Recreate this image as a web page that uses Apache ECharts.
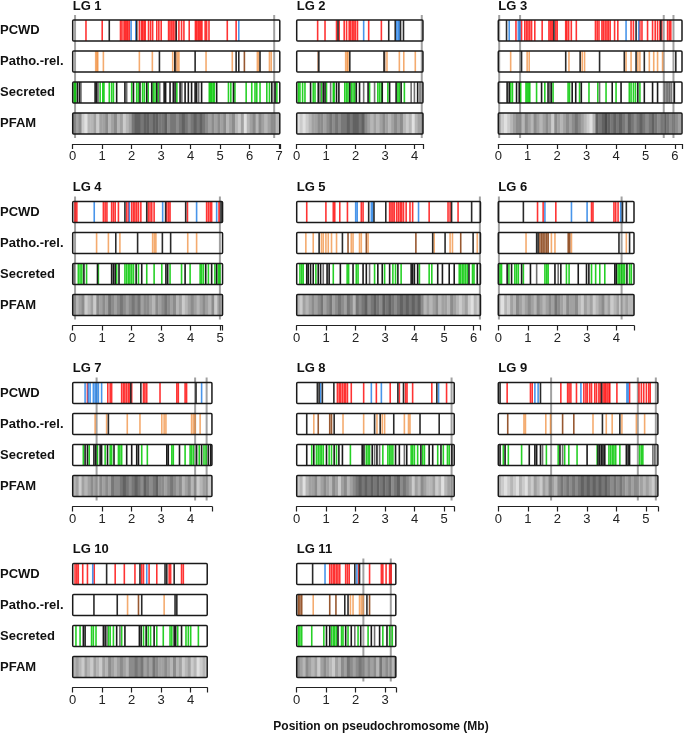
<!DOCTYPE html>
<html>
<head>
<meta charset="utf-8">
<script src="https://cdn.jsdelivr.net/npm/echarts@6/dist/echarts.min.js"></script>
<style>
  html, body {margin: 0; padding: 0; background: #fff;}
  #main {width: 685px; height: 735px;}
</style>
</head>
<body>
<div id="main"></div>
<script>
// ---- data (positions in Mb, one inner list per linkage group) ----
var lgNames = ['LG 1', 'LG 2', 'LG 3', 'LG 4', 'LG 5', 'LG 6', 'LG 7', 'LG 8', 'LG 9', 'LG 10', 'LG 11'];
var lgLength = [7.02, 4.28, 6.24, 5.08, 6.23, 4.6, 4.72, 5.34, 5.41, 4.56, 3.36];
var trackNames = ['PCWD', 'Patho.-rel.', 'Secreted', 'PFAM'];
var cenLines = [[0.08, 6.83], [4.24], [0.03, 0.74, 5.62, 5.95], [0.08, 4.99], [6.21], [0.02, 4.18],
  [0.81, 4.15, 4.54], [5.25], [1.79, 4.73, 5.34], [], [2.26, 3.19]];

var pcwdRed = [
  [0.45,1.0,1.62,1.67,1.74,1.78,1.83,1.87,1.92,2.26,2.33,2.37,2.42,2.46,2.57,2.64,2.71,2.85,2.92,3.0,3.25,3.30,3.36,3.41,3.47,3.6,3.69,3.77,3.95,4.16,4.2,4.25,4.29,4.34,4.38,4.49,4.54,4.62,5.24,5.54],
  [0.71,0.96,1.35,1.44,1.61,1.69,1.78,1.83,1.89,1.94,1.99,2.06,2.44,2.87],
  [0.6,0.79,0.9,0.96,1.01,1.07,1.13,1.24,1.49,1.72,1.77,1.82,1.86,1.95,2.0,2.29,2.33,2.39,2.48,2.65,3.3,3.36,3.42,3.52,3.57,3.63,3.69,3.74,3.8,3.95,4.06,4.51,4.59,4.81,4.88,5.07,5.24,5.33,5.41,5.49,5.55,5.75,5.81,5.86],
  [0.08,0.14,1.04,1.1,1.16,1.32,1.38,1.44,1.55,1.83,1.89,2.0,2.06,2.11,2.17,2.23,2.31,2.56,2.62,2.68,2.76,3.19,3.25,3.3,3.89,4.54,4.6,4.66,4.71,4.96],
  [0.34,0.99,1.24,1.29,1.46,1.72,2.19,2.25,3.15,3.2,3.26,3.31,3.39,3.45,3.51,3.56,3.62,3.71,3.84,3.93,4.49,5.13,5.2,5.47],
  [1.33,1.52,1.95,3.16,3.21,3.92,3.98,4.06],
  [0.5,1.19,1.27,1.32,1.66,1.72,1.77,1.83,1.89,1.94,2.0,2.4,2.45,2.51,2.96,3.53,3.58,3.81,3.86],
  [1.38,1.44,1.49,1.55,1.61,1.66,1.72,1.85,2.27,2.7,3.17,3.48,3.69,3.74,3.93,4.58,5.08],
  [0.3,1.09,1.15,2.12,2.35,2.4,2.46,2.65,2.9,2.97,3.02,3.1,3.16,3.27,3.33,3.41,3.46,3.55,3.6,3.64,3.69,3.75,3.78,4.02,4.45,4.77,4.85,4.93,5.02,5.1,5.15],
  [0.08,0.14,0.19,0.34,0.5,0.73,1.44,1.75,2.11,2.34,2.4,2.59,2.85,3.27,3.32,3.69,3.75],
  [1.12,1.18,1.24,1.29,1.35,1.4,1.46,1.66,1.72,1.78,2.1,2.47,2.87,2.92,3.03,3.15,3.2]
];
var pcwdBlue = [
  [1.98,2.14,5.63], [2.27,3.39,3.44,3.48], [0.37,0.68,0.73,4.34,4.77], [0.73,1.92,3.05,4.2,4.88],
  [2.0,2.05,2.53,2.58,4.13], [1.58,2.48,3.01,4.15], [0.42,0.53,0.59,0.7,0.76,0.81,0.87,0.98,4.37],
  [0.81,2.53,2.87,4.81], [1.24,1.35,2.8,4.36,4.4], [0.68,2.51], [0.96,2.04]
];
var pcwdBlack = [
  [1.24,2.17,3.51], [1.40,3.12,3.34,3.52,3.62], [0.28,1.89,4.68,5.52], [1.77,2.51,3.15,3.83,5.03],
  [2.44,2.62,3.02,5.25,5.93], [0.85,4.21,4.34], [1.97,2.31,4.18], [0.7,0.76,0.87,1.26,3.43,3.62,4.75],
  [0.06,1.43,3.5], [1.15,2.28,3.13,3.19,3.44], [0.54,1.97,2.13]
];
var pathoOrange = [
  [0.78,0.82,0.85,1.04,2.26,2.70,3.39,3.55,3.6,4.52,5.41,6.26,6.31,6.67,6.73],
  [1.66,1.71,1.74,3.06,3.48,3.63,4.02],
  [0.42,0.98,1.05,2.4,2.85,2.93,4.34,4.51,4.74,4.81,5.13,5.28,5.41,5.58],
  [0.81,1.21,1.6,2.71,2.77,2.82,3.9,4.2],
  [0.31,0.56,0.84,0.9,0.99,1.07,1.18,1.35,1.85,1.91,2.13,2.19,2.42,4.66,5.2,5.28,6.12],
  [0.94,1.8,1.92,2.48,4.34],
  [0.76,1.15,1.85,2.28,3.02,3.1,3.16,4.03,4.09,4.15,4.32],
  [0.58,1.57,2.27,2.72,2.9,2.98,3.65,3.79,3.84],
  [0.87,0.92,1.61,1.77,3.21,3.66,3.86,4.19,4.68,4.96],
  [1.86,3.1],
  [0.56,1.82,1.91,2.13,2.19,2.25]
];
var pathoBrown = [
  [3.49,5.82], [0.73,2.98], [], [], [1.74,2.36,4.04,5.56], [1.41,1.47,1.52,1.58,1.64,1.69,2.37,2.42],
  [], [0.73,1.12,1.18], [0.32,2.18,2.56], [2.23], [0.06,0.11,0.17,1.12,1.33,2.47]
];
var pathoBlack = [
  [2.94,3.46,4.15,5.54,5.63,6.35], [0.75,1.80,2.96], [0.79,2.29,2.78,3.44,4.28,4.68,4.96,6.03],
  [1.46,2.2,3.04,3.32], [0.76,1.55,4.61,5.03,5.98], [1.3,1.35,4.09,4.45], [1.21],
  [0.34,1.27,2.64,2.83,3.29,4.18,4.83], [3.53,4.12], [0.72,1.51,2.34,3.47,3.53], [1.63,1.74,2.38]
];
var secGreen = [
  [0.05,0.1,0.93,1.02,1.06,1.24,1.32,1.38,2.0,2.17,2.23,2.37,2.43,2.56,2.73,2.79,2.9,3.53,4.63,4.67,4.71,4.76,4.8,5.28,5.36,5.5,5.88,6.07,6.18,6.24,6.35,6.58,6.67,6.92],
  [0.06,0.11,0.2,0.28,0.56,0.62,0.84,1.01,1.24,1.27,1.63,1.69,1.74,1.85,1.91,1.97,2.47,2.75,2.81,2.87,3.09,3.43,3.48,3.65],
  [0.42,0.48,0.76,0.94,0.98,1.03,1.07,1.3,1.58,1.86,2.37,2.42,2.76,3.08,3.38,3.66,4.0,4.45,4.51,4.59,4.66,4.81],
  [0.19,0.25,0.31,0.47,0.87,1.49,1.77,1.83,1.89,1.94,2.0,2.06,2.23,2.51,2.76,3.02,3.3,3.69,3.98,4.32,4.37,4.43,4.6,4.82,4.94,4.99],
  [0.11,0.17,0.22,0.65,1.24,1.71,1.76,2.02,2.08,2.64,2.98,3.26,3.35,3.54,4.16,4.49,4.58,5.51,5.56,5.62,5.67,5.73,5.79,5.96,6.01],
  [0.06,0.11,0.36,0.56,0.62,0.68,0.85,1.58,1.64,1.69,2.31,2.4,3.16,3.3,3.44,3.61,4.06,4.11,4.17,4.23,4.28,4.45,4.51],
  [0.36,0.56,0.84,1.1,1.27,1.32,1.55,1.6,1.66,2.34,2.53,3.36,3.41,3.81,3.98,4.03,4.09,4.29,4.45,4.52],
  [0.51,0.67,0.73,0.79,0.84,0.9,1.1,1.18,1.35,1.82,2.36,2.42,2.47,2.92,3.09,3.15,3.2,3.26,3.88,3.93,3.99,4.1,4.27,4.33,4.78,4.97,5.11,5.17],
  [0.17,0.34,0.79,1.63,2.03,2.25,2.39,2.67,3.35,3.75,3.81,3.87,3.92,3.98,4.12,4.79,4.85,4.9],
  [0.11,0.25,0.64,0.7,0.79,1.21,1.27,1.38,1.66,2.4,2.56,2.64,2.85,3.07,3.3,3.36,3.56,3.84,3.92,4.0,4.26],
  [0.06,0.11,0.17,0.51,0.92,1.18,1.24,1.29,1.35,1.52,1.57,1.74,2.08,2.42,2.92,3.15,3.24]
];
var secBlack = [
  [0.16,0.23,0.76,0.81,1.49,1.77,2.06,2.28,2.51,2.68,2.85,3.1,3.15,3.3,3.41,3.47,3.64,3.81,3.92,4.03,4.15,4.2,4.37,4.88,5.45,6.75,6.86],
  [0.47,0.73,0.9,0.96,1.35,1.43,1.8,2.02,2.13,2.42,2.9,3.15,3.37,3.54,4.1],
  [0.3,0.37,0.62,0.71,1.47,1.69,1.8,2.51,2.63,2.82,3.87,4.17,4.74,4.96,5.24,5.41,5.98],
  [0.38,0.84,1.32,1.38,1.44,1.57,2.15,2.34,3.16,3.22,3.81,4.51,4.71,4.88],
  [0.34,0.39,0.47,0.56,0.73,0.81,1.03,1.1,1.48,1.91,2.25,2.36,2.75,2.9,3.15,3.43,3.88,3.93,3.99,4.1,4.78,4.94,5.17,5.34,5.84,6.12],
  [0.3,0.45,0.79,1.09,1.92,2.12,2.71,2.99,3.07,3.95,4.0,4.36],
  [0.42,0.5,0.72,0.78,0.93,0.98,1.18,1.4,1.83,2.0,2.17,2.23,3.19,3.24,3.62,4.2,4.37,4.6,4.68],
  [0.34,0.58,1.01,1.27,1.43,1.55,2.22,2.28,2.56,2.72,3.35,3.48,3.73,4.21,4.49,4.61,4.89,5.26],
  [0.06,0.23,1.05,1.24,1.3,1.43,2.09,3.01,3.38,3.44,3.5,3.55,3.61,4.34,4.4,4.45],
  [0.36,0.42,1.04,1.1,1.49,1.77,2.26,2.32,2.49,2.76,3.44,3.49,3.69],
  [1.01,1.12,1.4,1.66,1.85,2.17,2.53,2.81,3.06]
];
var secGray = [
  [0.28,0.86,1.83,2.95,3.7,4.27], [0.79,1.15,2.27,2.64,3.88,3.99,4.18], [1.75,3.44,5.64,5.7,5.76,5.81,5.87],
  [0.05], [0.9,2.47], [1.3,2.03], [], [2.64,2.81,3.65], [1.5,2.18,5.24,5.3], [1.16,1.6], [1.97,2.64]
];
// PFAM density, darkness 0-9 per 0.1 Mb bin
var pfam = [
  [5,4,5,2,1,3,3,4,2,4, 4,5,3,4,5,3,4,2,3,4, 6,7,7,6,7,7,6,7,7,6, 6,7,5,6,6,5,6,7,6,5, 6,7,6,7,6,5,4,5,4,5, 4,5,3,4,5,3,2,4,1,3, 4,5,3,5,4,3,4,5,4,3],
  [1,2,1,2,3,4,4,5,5,4,5,6,5,6,5,6,6,7,6,7,7,6,7,5,4,3,4,3,4,5,4,3,4,5,4,5,3,2,3,1,3,4,3],
  [3,2,1,2,3,4,5,4,3,5,4,3,5,4,3,4,5,4,2,5,4,3,4,5,4,5,6,5,4,3,2,1,3,7,6,7,8,7,6,7,6,7,6,5,7,6,5,6,7,6,5,6,7,6,5,6,7,6,5,6,5,4],
  [4,3,4,5,2,3,4,2,5,4,5,4,6,5,4,5,6,5,4,5,6,5,6,4,5,5,4,3,5,4,5,6,5,4,5,3,4,2,3,4,5,4,3,4,5,4,3,5,2,4,3],
  [3,2,4,3,4,5,4,5,6,4,5,6,4,5,6,5,4,6,5,3,6,5,6,7,5,6,7,6,5,7,6,7,6,5,6,7,6,7,6,7,6,7,5,3,4,3,4,5,3,4,4,3,5,4,3,2,3,4,2,1,3,2],
  [2,1,3,2,4,3,5,4,3,4,5,4,3,5,4,3,4,5,4,6,5,4,3,5,4,4,5,3,2,4,3,4,2,3,4,5,3,4,2,3,4,2,3,4,3,3],
  [3,4,2,4,3,4,5,4,3,5,4,5,4,6,5,5,6,7,6,5,6,7,6,5,7,6,5,6,7,5,5,4,5,6,5,4,5,3,4,5,3,4,2,3,4,3,2],
  [2,3,1,3,4,4,5,3,4,5,4,3,5,4,2,4,5,3,4,5,6,7,6,7,6,7,6,7,6,7,6,7,5,6,7,5,6,5,4,2,4,3,5,4,3,3,4,2,3,1,3,4,3],
  [3,2,1,2,3,2,1,3,2,1,3,2,4,3,2,4,3,5,4,3,5,6,5,6,5,6,5,6,7,6,7,6,7,6,7,6,7,6,5,6,5,6,5,4,5,4,5,3,4,3,4,3,2,3],
  [3,4,3,2,4,3,2,4,3,2,4,3,5,4,3,4,5,4,3,5,5,6,5,6,4,5,4,6,5,4,4,5,4,3,5,3,4,2,3,4,2,3,1,2,3,2],
  [5,4,3,5,4,3,4,2,4,5,4,3,2,4,3,5,4,6,5,4,5,6,5,4,5,4,5,3,6,4,5,4,3,5]
];

// ---- layout ----
var PX_PER_MB = 29.5;
var colX = [72.7, 296.7, 498.3];
var rowTop = [20, 201.5, 382.5, 563.5];
var TRACK_H = 21, TRACK_STEP = 31, PANEL_H = 113;
var FONT = 'Liberation Sans, Arial, Helvetica, sans-serif';

var chart = echarts.init(document.getElementById('main'));

var grids = [], xAxes = [], yAxes = [], series = [], graphics = [];

function markSeries(g, track, positions, color, w) {
  return {
    type: 'custom', xAxisIndex: g, yAxisIndex: g, z: 4, silent: true, clip: false,
    data: positions.map(function (p) { return [p, track]; }),
    encode: {x: 0},
    renderItem: function (params, api) {
      var x = api.coord([api.value(0), 0])[0];
      var y0 = api.coord([0, track * TRACK_STEP])[1];
      var y1 = api.coord([0, track * TRACK_STEP + TRACK_H])[1];
      return {type: 'rect', shape: {x: x - w / 2, y: y0, width: w, height: y1 - y0}, style: {fill: color}};
    }
  };
}

lgNames.forEach(function (name, g) {
  var r = Math.floor(g / 3), c = g % 3;
  var len = lgLength[g];
  var left = colX[c], top = rowTop[r];
  grids.push({left: left, top: top, width: len * PX_PER_MB, height: PANEL_H});
  xAxes.push({
    gridIndex: g, type: 'value', position: 'bottom', min: 0, max: len, interval: 1, offset: 11,
    axisLine: {show: true, onZero: false, lineStyle: {color: '#222', width: 1.2}},
    axisTick: {show: true, length: 5, lineStyle: {color: '#222', width: 1.2}},
    axisLabel: {
      margin: 6, fontSize: 13, color: '#222', fontFamily: FONT,
      formatter: function (v) { return Math.abs(v - Math.round(v)) < 1e-6 ? String(Math.round(v)) : ''; }
    },
    splitLine: {show: false}
  });
  yAxes.push({gridIndex: g, type: 'value', min: 0, max: PANEL_H, inverse: true, show: false});

  // PFAM density
  series.push({
    type: 'custom', xAxisIndex: g, yAxisIndex: g, z: 1, silent: true,
    data: pfam[g].map(function (d, k) { return [k * 0.1, d]; }),
    encode: {x: 0},
    renderItem: function (params, api) {
      var a = api.value(0), d = api.value(1);
      var p0 = api.coord([a, 3 * TRACK_STEP]);
      var p1 = api.coord([Math.min(a + 0.1, len), 3 * TRACK_STEP + TRACK_H]);
      var v = Math.round(245 - d * 21);
      return {type: 'rect', shape: {x: p0[0], y: p0[1], width: p1[0] - p0[0] + 0.4, height: p1[1] - p0[1]},
        style: {fill: 'rgb(' + v + ',' + v + ',' + v + ')'}};
    }
  });

  // grey reference lines
  series.push({
    type: 'custom', xAxisIndex: g, yAxisIndex: g, z: 2, silent: true, clip: false,
    data: cenLines[g].map(function (p) { return [p]; }),
    encode: {x: 0},
    renderItem: function (params, api) {
      var p0 = api.coord([api.value(0), -5]);
      var p1 = api.coord([api.value(0), PANEL_H + 5]);
      return {type: 'line', shape: {x1: p0[0], y1: p0[1], x2: p1[0], y2: p1[1]},
        style: {stroke: 'rgba(130,130,130,0.75)', lineWidth: 2}};
    }
  });

  series.push(markSeries(g, 0, pcwdRed[g], 'rgba(255,0,0,0.8)', 1.6));
  series.push(markSeries(g, 0, pcwdBlue[g], 'rgba(40,130,230,0.85)', 1.6));
  series.push(markSeries(g, 0, pcwdBlack[g], '#2a2a2a', 1.6));
  series.push(markSeries(g, 1, pathoOrange[g], 'rgba(240,135,50,0.7)', 1.6));
  series.push(markSeries(g, 1, pathoBrown[g], 'rgba(140,70,25,0.9)', 1.6));
  series.push(markSeries(g, 1, pathoBlack[g], '#2a2a2a', 1.6));
  series.push(markSeries(g, 2, secGreen[g], 'rgba(0,200,0,0.85)', 1.6));
  series.push(markSeries(g, 2, secGray[g], '#707070', 1.6));
  series.push(markSeries(g, 2, secBlack[g], '#1a1a1a', 1.6));

  // track frames
  series.push({
    type: 'custom', xAxisIndex: g, yAxisIndex: g, z: 6, silent: true, clip: false,
    data: trackNames.map(function (t, k) { return [0, k]; }),
    encode: {x: 0},
    renderItem: function (params, api) {
      var k = api.value(1);
      var p0 = api.coord([0, k * TRACK_STEP]);
      var p1 = api.coord([len, k * TRACK_STEP + TRACK_H]);
      return {type: 'rect', shape: {x: p0[0], y: p0[1], width: p1[0] - p0[0], height: p1[1] - p0[1], r: 1},
        style: {fill: 'none', stroke: '#1a1a1a', lineWidth: 1.5}};
    }
  });

  graphics.push({type: 'text', x: left, y: top - 14,
    style: {text: name, font: 'bold 13px ' + FONT, fill: '#111', verticalAlign: 'middle'}});
  if (c === 0) {
    trackNames.forEach(function (t, k) {
      graphics.push({type: 'text', x: 0, y: top + k * TRACK_STEP + TRACK_H / 2,
        style: {text: t, font: 'bold 13px ' + FONT, fill: '#111', verticalAlign: 'middle'}});
    });
  }
});

graphics.push({type: 'text', x: 381, y: 727,
  style: {text: 'Position on pseudochromosome (Mb)', font: 'bold 12px ' + FONT, fill: '#111', align: 'center', verticalAlign: 'middle'}});

chart.setOption({
  animation: false,
  grid: grids,
  xAxis: xAxes,
  yAxis: yAxes,
  series: series,
  graphic: graphics
});
</script>
</body>
</html>
